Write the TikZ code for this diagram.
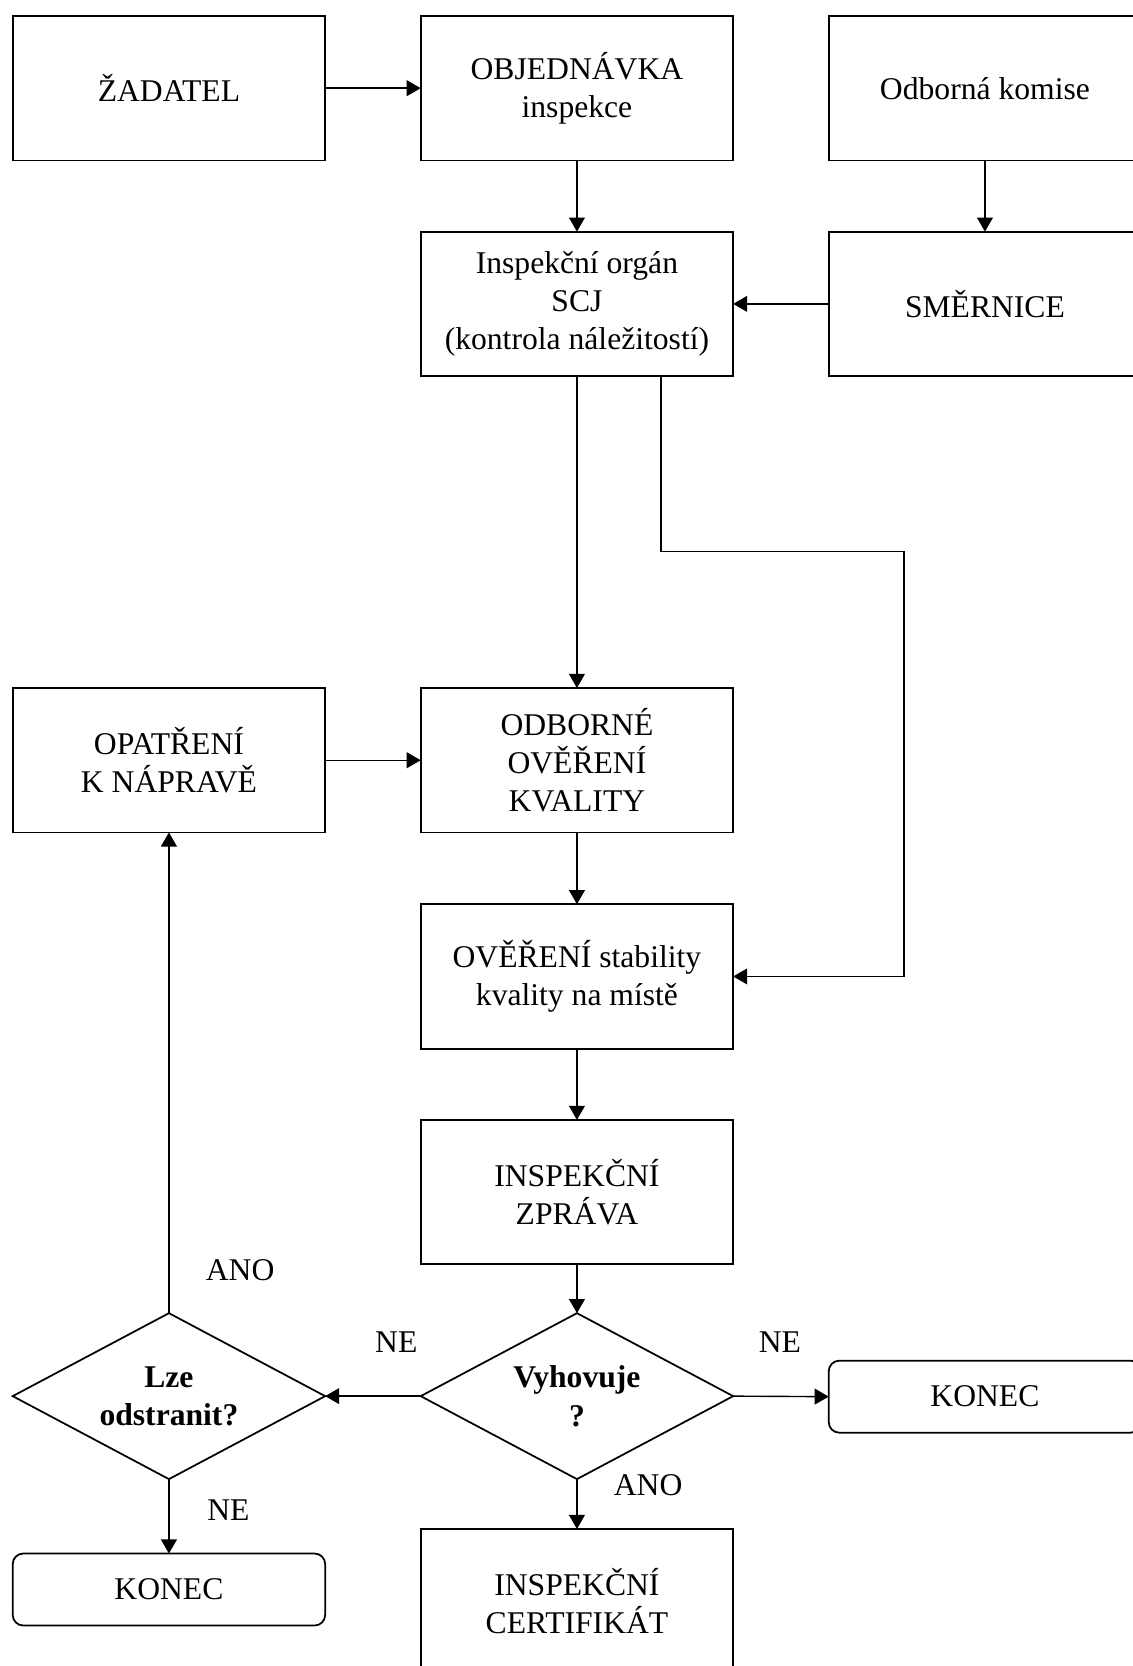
\documentclass[tikz,border=0pt]{standalone}
\usepackage{fontspec}
\setmainfont{Liberation Serif}
\usetikzlibrary{shapes.geometric, arrows.meta, positioning, calc}
\tikzstyle{box} = [rectangle, draw, line width=1pt, minimum width=6.25cm, minimum height=2.89cm, inner sep=0pt, outer sep=0pt, align=center, font=\fontsize{18}{21.8}\selectfont]
\tikzstyle{endbox} = [box, rounded corners=6pt, minimum height=1.44cm]
\tikzstyle{decision} = [diamond, aspect=1.9, draw, line width=1pt, minimum width=6.25cm, minimum height=3.32cm, inner sep=0pt, outer sep=0pt, align=center, font=\fontsize{18}{21.8}\selectfont\bfseries]
\tikzstyle{arrow} = [line width=0.8pt, -{Triangle[length=8pt, width=9pt]}]
\tikzstyle{answer} = [font=\fontsize{18}{21.8}\selectfont]

\begin{document}
\begin{tikzpicture}[x=0.021258cm, y=-0.021258cm]
\useasboundingbox (0,0) rectangle (1066,1568);

% Top row
\node[box] (zadatel) at (159, 83) {ŽADATEL};
\node[box] (objednavka) at (543, 83) {OBJEDNÁVKA\\inspekce};
\node[box] (komise) at (927, 83) {Odborná komise};

% Second row
\node[box] (inspekce) at (543, 286) {Inspekční orgán\\SCJ\\(kontrola náležitostí)};
\node[box] (smernice) at (927, 286) {SMĚRNICE};

% Verification
\node[box] (naprava) at (159, 715.5) {OPATŘENÍ\\K NÁPRAVĚ};
\node[box] (overeni) at (543, 715.5) {ODBORNÉ\\OVĚŘENÍ\\KVALITY};
\node[box] (stabilita) at (543, 919) {OVĚŘENÍ stability\\kvality na místě};
\node[box] (zprava) at (543, 1122) {INSPEKČNÍ\\ZPRÁVA};

% Decisions
\node[decision] (vyhovuje) at (543, 1314) {Vyhovuje\\?};
\node[decision] (lze) at (159, 1314) {Lze\\odstranit?};

% Ends
\node[endbox] (konecR) at (927, 1314.5) {KONEC};
\node[endbox] (konecL) at (159, 1496) {KONEC};
\node[box] (certifikat) at (543, 1507) {INSPEKČNÍ\\CERTIFIKÁT};

% Arrows
\draw[arrow] (zadatel) -- (objednavka);
\draw[arrow] (objednavka) -- (inspekce);
\draw[arrow] (komise) -- (smernice);
\draw[arrow] (smernice) -- (inspekce);
\draw[arrow] (inspekce) -- (overeni);
\coordinate (elbow) at (851, 519);
\draw[arrow] ([xshift=1.68cm]inspekce.south) |- (elbow) |- (stabilita.east);
\draw[arrow] (naprava) -- (overeni);
\draw[arrow] (overeni) -- (stabilita);
\draw[arrow] (stabilita) -- (zprava);
\draw[arrow] (zprava) -- (vyhovuje);
\draw[arrow] (vyhovuje.west) -- (lze.east);
\draw[arrow] (vyhovuje.east) -- (konecR.west);
\draw[arrow] (vyhovuje.south) -- (certifikat.north);
\draw[arrow] (lze.north) -- (naprava.south);
\draw[arrow] (lze.south) -- (konecL.north);

% Answers
\node[answer] (anoLze) at (226, 1195) {ANO};
\node[answer] (neLeft) at (373, 1263) {NE};
\node[answer] (neRight) at (734, 1263) {NE};
\node[answer] (anoVyh) at (610, 1398) {ANO};
\node[answer] (neLze) at (215, 1421) {NE};

\end{tikzpicture}
\end{document}
